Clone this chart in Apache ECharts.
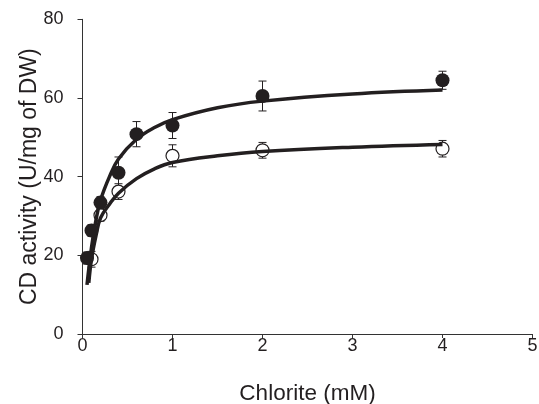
<!DOCTYPE html>
<html><head><meta charset="utf-8">
<script src="https://cdn.jsdelivr.net/npm/echarts@6/dist/echarts.min.js"></script>
<style>html,body{margin:0;padding:0;background:#fff}#c{width:539px;height:404px}</style>
</head><body><div id="c"></div>
<script>
// Filled circles (observed)
const filledX = [0.05, 0.1, 0.2, 0.4, 0.6, 1, 2, 4];
const filledY = [19.3, 26.3, 33.4, 41.0, 50.8, 53.0, 60.5, 64.5];
const filledErr = [1.5, 1.5, 1.5, 4.0, 3.2, 3.3, 3.8, 2.3];
// Open circles (observed)
const openX = [0.1, 0.2, 0.4, 1, 2, 4];
const openY = [19.0, 30.2, 36.2, 45.3, 46.7, 47.1];
const openErr = [2.0, 1.5, 2.0, 2.8, 2.0, 2.1];
// Fitted curves
const fitFilledX = [0.05, 0.1, 0.15, 0.2, 0.3, 0.4, 0.6, 0.8, 1, 1.5, 2, 3, 4];
const fitFilledY = [12.5, 22, 29, 34, 40, 44.5, 49.5, 52.5, 54.5, 57.5, 59.2, 61, 62];
const fitOpenX = [0.07, 0.1, 0.15, 0.2, 0.3, 0.4, 0.6, 0.8, 1, 1.5, 2, 3, 4];
const fitOpenY = [13, 19, 25, 29.5, 33, 35.8, 39.5, 42, 43.6, 45.3, 46.4, 47.5, 48.2];
const xTicks = [0, 1, 2, 3, 4, 5];
const yTicks = [0, 20, 40, 60, 80];

const ink = '#231f20';
const font = 'Liberation Sans, Arial, sans-serif';
const zip = (a, b) => a.map((v, i) => [v, b[i]]);
const errData = (xs, ys, es) => xs.map((v, i) => [v, ys[i] - es[i], ys[i] + es[i]]);

function errRender(params, api) {
  const x = api.value(0);
  const lo = api.coord([x, api.value(1)]);
  const hi = api.coord([x, api.value(2)]);
  const w = 4;
  const st = {stroke: ink, lineWidth: 1};
  return {type: 'group', children: [
    {type: 'line', shape: {x1: lo[0], y1: lo[1], x2: hi[0], y2: hi[1]}, style: st},
    {type: 'line', shape: {x1: lo[0] - w, y1: lo[1], x2: lo[0] + w, y2: lo[1]}, style: st},
    {type: 'line', shape: {x1: hi[0] - w, y1: hi[1], x2: hi[0] + w, y2: hi[1]}, style: st}
  ]};
}

const chart = echarts.init(document.getElementById('c'), null, {renderer: 'canvas'});
chart.setOption({
  animation: false,
  backgroundColor: '#fff',
  grid: {left: 82.5, right: 6.5, top: 19.3, bottom: 70, containLabel: false, outerBoundsMode: 'none'},
  xAxis: {
    type: 'value', min: xTicks[0], max: xTicks[xTicks.length - 1], interval: 1,
    name: 'Chlorite (mM)', nameLocation: 'middle', nameGap: 48, nameMoveOverlap: false,
    nameTextStyle: {fontFamily: font, fontSize: 22.5, color: ink},
    axisLine: {lineStyle: {color: '#333', width: 1}},
    axisTick: {show: true, inside: false, length: 4, lineStyle: {color: '#333'}},
    axisLabel: {fontFamily: font, fontSize: 18, color: ink, margin: 3},
    splitLine: {show: false}
  },
  yAxis: {
    type: 'value', min: yTicks[0], max: yTicks[yTicks.length - 1], interval: 20,
    name: 'CD activity (U/mg of DW)', nameLocation: 'middle', nameGap: 41, nameMoveOverlap: false,
    nameTextStyle: {fontFamily: font, fontSize: 23, color: ink},
    axisLine: {show: true, lineStyle: {color: '#333', width: 1}},
    axisTick: {show: true, inside: false, length: 5, lineStyle: {color: '#333'}},
    axisLabel: {fontFamily: font, fontSize: 18, color: ink, margin: 19},
    splitLine: {show: false}
  },
  series: [
    {type: 'custom', renderItem: errRender, data: errData(openX, openY, openErr), z: 2, silent: true},
    {type: 'custom', renderItem: errRender, data: errData(filledX, filledY, filledErr), z: 2, silent: true},
    {type: 'scatter', data: zip(openX, openY), symbol: 'circle', symbolSize: 13,
     itemStyle: {color: '#fff', borderColor: ink, borderWidth: 1.2, opacity: 1}, z: 3},
    {type: 'line', data: zip(fitFilledX, fitFilledY), smooth: 0.4, showSymbol: false,
     lineStyle: {color: ink, width: 3.5}, z: 4},
    {type: 'line', data: zip(fitOpenX, fitOpenY), smooth: 0.4, showSymbol: false,
     lineStyle: {color: ink, width: 3.5}, z: 4},
    {type: 'scatter', data: zip(filledX, filledY), symbol: 'circle', symbolSize: 14,
     itemStyle: {color: ink, opacity: 1}, z: 5}
  ]
});
</script></body></html>
